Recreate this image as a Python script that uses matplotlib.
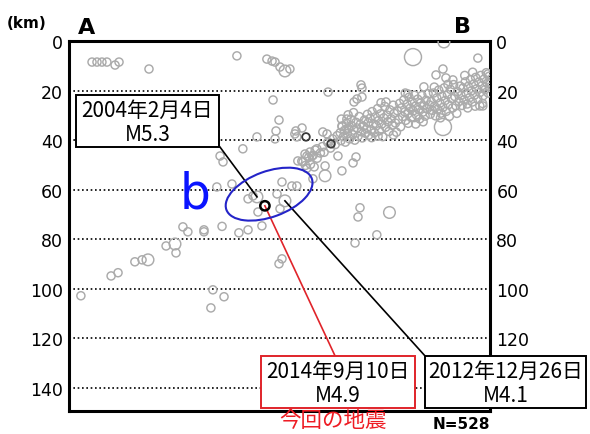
import matplotlib
matplotlib.use("Agg")
import matplotlib.pyplot as plt
from matplotlib.patches import Ellipse, Rectangle

plt.rcParams['font.family'] = ['DejaVu Sans']
jp = ['Noto Sans CJK JP', 'DejaVu Sans']

# 震源分布 (A-B 方向の距離 km, 深さ km)
small_x = [9.3, 11.3, 13.3, 15.3, 18.6, 20.2, 32.3,
           67.8, 79.9, 82.0, 83.2, 85.2,
           82.4, 84.8, 83.6, 91.2, 75.9, 70.2,
           61.0, 62.2, 65.8, 59.7, 74.3, 72.3,
           84.0, 86.0, 90.0, 92.0, 85.2,
           94.1, 104.6, 104.2, 112.2, 112.2,
           165.1, 151.0, 148.2, 152.2, 155.0, 143.3,
           117.9, 118.3, 89.2,
           94.5, 96.1, 108.6, 114.7, 115.9, 110.2,
           91.6, 102.5, 104.6,
           117.5, 116.7, 124.3, 115.5,
           92.4, 95.3, 97.3, 100.1, 98.5,
           46.0, 48.0, 54.5, 54.5, 61.8, 68.6, 72.3, 77.9, 76.3,
           39.2, 43.2, 26.6, 29.5, 17.0, 19.8, 4.8,
           58.1, 62.6, 57.3, 84.8, 86.0,
           116.3, 115.1, 118.3, 136.9,
           169.2, 170.0, 165.9, 167.1,
           83.2, 92.0, 110.2, 103.4, 98.1]
small_d = [8.5, 8.5, 8.5, 8.5, 9.7, 8.5, 11.3,
           6.0, 7.3, 8.1, 8.5, 10.5,
           23.8, 31.9, 36.3, 37.5, 38.7, 43.5,
           46.4, 48.8, 57.7, 58.9, 62.5, 63.7,
           61.7, 56.9, 58.5, 58.5, 67.7,
           35.1, 20.6, 37.5, 31.5, 35.5,
           6.9, 11.3, 13.7, 14.9, 15.7, 18.5,
           17.7, 19.0, 11.3,
           48.8, 46.4, 46.4, 49.2, 46.8, 52.4,
           36.3, 36.7, 40.7,
           67.3, 71.0, 78.2, 81.5,
           48.4, 45.6, 44.8, 43.5, 55.6,
           75.0, 77.0, 76.2, 77.0, 74.8, 77.4, 76.2, 74.6, 69.0,
           82.7, 85.5, 89.1, 88.3, 94.8, 93.5, 102.8,
           100.4, 103.2, 107.7, 89.9, 87.9,
           23.4, 24.6, 22.6, 21.4,
           13.3, 16.5, 26.2, 26.2,
           39.5, 38.7, 34.3, 50.4, 46.4]

# 沈み込むプレート沿いの密集域
band_x = [94.0, 95.5, 96.8, 97.5, 98.6, 99.4, 100.2, 101.5, 102.3, 103.0, 104.5, 105.6,
          106.4, 107.5, 108.3, 96.0, 99.0,
          109.5, 109.8, 110.3, 110.8, 111.2, 111.6, 112.0, 112.4, 112.9, 113.3, 113.8,
          114.1, 114.6, 115.0, 115.4, 115.9, 116.3, 116.7, 117.2, 117.6, 118.0, 118.4,
          118.9, 119.3, 119.7, 120.1, 120.5, 120.8, 121.0, 110.0, 112.7, 114.9,
          121.6, 122.0, 122.4, 122.9, 123.3, 123.7, 124.1, 124.6, 125.0, 125.4, 125.8,
          126.3, 126.7, 127.1, 127.5, 127.9, 128.4, 128.8, 129.2, 129.6, 130.1, 130.5,
          130.9, 131.3, 131.8, 132.2, 132.6, 133.0, 133.5, 133.9, 122.2, 124.8, 128.0,
          131.0, 126.0,
          134.3, 134.7, 135.2, 135.6, 136.0, 136.5, 136.9, 137.3, 137.8, 138.2, 138.6,
          139.0, 139.5, 139.9, 140.3, 140.8, 141.2, 141.6, 142.0, 142.5, 142.9, 143.3,
          143.8, 144.2, 144.6, 145.0, 145.5, 145.9, 137.0, 140.0, 143.0, 135.8,
          146.3, 146.7, 147.2, 147.6, 148.0, 148.5, 148.9, 149.3, 149.8, 150.2, 150.6,
          151.0, 151.5, 151.9, 152.3, 152.8, 153.2, 153.6, 154.0, 154.5, 154.9, 155.3,
          155.8, 156.2, 156.6, 157.0, 157.5, 157.9, 150.0, 153.0, 147.5,
          158.3, 158.7, 159.1, 159.5, 160.0, 160.4, 160.8, 161.2, 161.7, 162.1, 162.5,
          162.9, 163.4, 163.8, 164.2, 164.6, 165.1, 165.5, 165.9, 166.3, 166.8, 167.2,
          167.6, 168.0, 168.5, 168.9, 169.3, 169.7, 169.9, 161.0, 164.0, 167.0, 159.8,
          163.0]
band_d = [48.5, 50.2, 47.0, 49.8, 46.1, 44.0, 47.3, 45.2, 42.6, 44.9, 41.0, 43.2,
          39.5, 41.8, 38.2, 51.4, 50.8,
          37.0, 40.2, 34.5, 38.6, 36.1, 40.8, 33.2, 37.4, 35.3, 39.5, 31.6,
          34.2, 37.8, 36.0, 40.0, 32.8, 35.1, 38.4, 30.5, 33.7, 36.6, 39.1,
          34.4, 31.9, 37.2, 35.5, 29.6, 33.0, 38.0, 31.5, 29.8, 28.9,
          31.2, 35.8, 28.5, 33.4, 37.0, 30.6, 34.2, 27.3, 32.1, 36.2, 29.4,
          33.5, 38.6, 31.0, 26.4, 34.8, 29.9, 32.6, 36.5, 27.8, 31.4, 34.0,
          25.9, 29.2, 33.1, 36.8, 28.1, 31.7, 25.2, 34.6, 39.0, 38.4, 24.6,
          37.9, 24.9,
          27.0, 30.5, 23.8, 28.6, 32.0, 25.5, 29.3, 22.7, 27.1, 30.9, 24.6,
          28.2, 21.9, 26.3, 29.8, 23.5, 27.6, 31.4, 25.0, 22.0, 28.7, 26.2,
          30.3, 23.9, 27.4, 21.3, 25.8, 29.5, 33.2, 33.5, 32.6, 21.0,
          24.5, 28.0, 21.0, 26.3, 30.2, 23.0, 27.5, 19.8, 25.1, 29.1, 22.3,
          26.8, 18.9, 24.0, 28.4, 21.6, 25.7, 30.4, 19.5, 23.2, 27.0, 17.6,
          22.4, 26.1, 29.2, 20.5, 24.4, 18.2, 31.0, 17.5, 18.6,
          22.0, 26.0, 19.0, 23.7, 16.5, 21.2, 25.4, 18.3, 22.9, 15.6, 20.1,
          24.6, 17.4, 21.8, 14.7, 19.3, 23.5, 16.6, 20.8, 13.9, 18.0, 22.1,
          15.4, 19.6, 12.8, 17.1, 21.0, 14.2, 18.7, 27.0, 26.3, 25.2, 13.9,
          12.6]

mid_x = [87.2, 139.3, 103.4, 31.9, 42.8, 129.4, 151.4]
mid_d = [12.1, 30.2, 54.4, 88.3, 81.9, 69.2, 0.4]
big_x = [138.9, 151.0]
big_d = [6.5, 34.7]
dark_x = [95.7, 105.8]
dark_d = [38.7, 41.5]

# 吹き出しの地震: 2004年, 今回(2014年), 2012年
ev_x = [75.9, 79.1, 87.2]
ev_d = [62.9, 66.5, 64.5]
ev_labels = ["2004年2月4日\nM5.3", "2014年9月10日\nM4.9", "2012年12月26日\nM4.1"]

depth_ticks = [0, 20, 40, 60, 80, 100, 120, 140]

fig = plt.figure(figsize=(5.9, 4.35), dpi=100)
ax = fig.add_axes([69 / 590, 1 - 412 / 435, 421 / 590, 370 / 435])

gray = '#ababab'
ax.scatter(band_x, band_d, s=34, facecolors='none', edgecolors=gray, linewidths=1.05, zorder=3)
ax.scatter(small_x, small_d, s=34, facecolors='none', edgecolors=gray, linewidths=1.05, zorder=3)
ax.scatter(mid_x, mid_d, s=70, facecolors='none', edgecolors=gray, linewidths=1.05, zorder=3)
ax.scatter(big_x, big_d, s=150, facecolors='none', edgecolors=gray, linewidths=1.05, zorder=3)
ax.scatter(dark_x, dark_d, s=30, facecolors='none', edgecolors='#3a3a3a', linewidths=1.3, zorder=4)
ax.scatter([ev_x[0], ev_x[2]], [ev_d[0], ev_d[2]], s=70, facecolors='none',
           edgecolors=gray, linewidths=1.05, zorder=3)
ax.scatter([ev_x[1]], [ev_d[1]], s=45, facecolors='none', edgecolors='black',
           linewidths=1.8, zorder=6)

ax.set_xlim(0, 170)
ax.set_ylim(149.3, 0)
ax.set_xticks([])
ax.set_yticks(depth_ticks)
ax.tick_params(axis='y', length=0, labelleft=True, labelright=True, pad=4.5, labelsize=12.5)
# 右側の 140 は吹き出しに隠れている
ax.yaxis.get_major_ticks()[-1].label2.set_visible(False)
ax.yaxis.grid(True, color='black', linestyle=(0, (1, 1.6)), linewidth=1.2)
ax.set_axisbelow(True)
for sp in ax.spines.values():
    sp.set_linewidth(2.2)

# 楕円 b
ax.add_patch(Ellipse((80.8, 61.8), 36.7, 18.4, angle=-20, fill=False,
                     edgecolor='#2424c8', linewidth=1.5, zorder=5))
ax.text(50.9, 61.5, "b", color='#0a14ff', fontsize=35, ha='center', va='center')

# 吹き出し枠
boxes = [(2.8, 60.6, 21.8, 42.7), (77.5, 139.7, 127.0, 148.0), (143.7, 208.7, 127.0, 148.0)]
corners = [(60.6, 42.3), (107.4, 127.0), (143.7, 127.0)]
edge_cols = ['black', '#e0242a', 'black']
for i in range(3):
    x0, x1, y0, y1 = boxes[i]
    ax.plot([corners[i][0], ev_x[i]], [corners[i][1], ev_d[i]], color=edge_cols[i],
            linewidth=1.2, zorder=4, clip_on=False)
    ax.add_patch(Rectangle((x0, y0), x1 - x0, y1 - y0, facecolor='white',
                           edgecolor=edge_cols[i], linewidth=1.4, zorder=10, clip_on=False))
    ax.text((x0 + x1) / 2, (y0 + y1) / 2 + 0.5, ev_labels[i], family=jp, fontsize=15,
            ha='center', va='center', linespacing=1.15, zorder=11, clip_on=False)

ax.text(106.6, 152.8, "今回の地震", family=jp, fontsize=15.5, color='#ee1c24',
        ha='center', va='center', clip_on=False)
ax.text(158.3, 154.5, "N=528", fontsize=11, fontweight='bold', ha='center', va='center',
        clip_on=False)

fig.text(27 / 590, 1 - 23 / 435, "(km)", fontsize=11, fontweight='bold', ha='center', va='center')
fig.text(87 / 590, 1 - 28 / 435, "A", fontsize=16, fontweight='bold', ha='center', va='center')
fig.text(462 / 590, 1 - 27 / 435, "B", fontsize=16, fontweight='bold', ha='center', va='center')

fig.savefig("out.png", dpi=100)
